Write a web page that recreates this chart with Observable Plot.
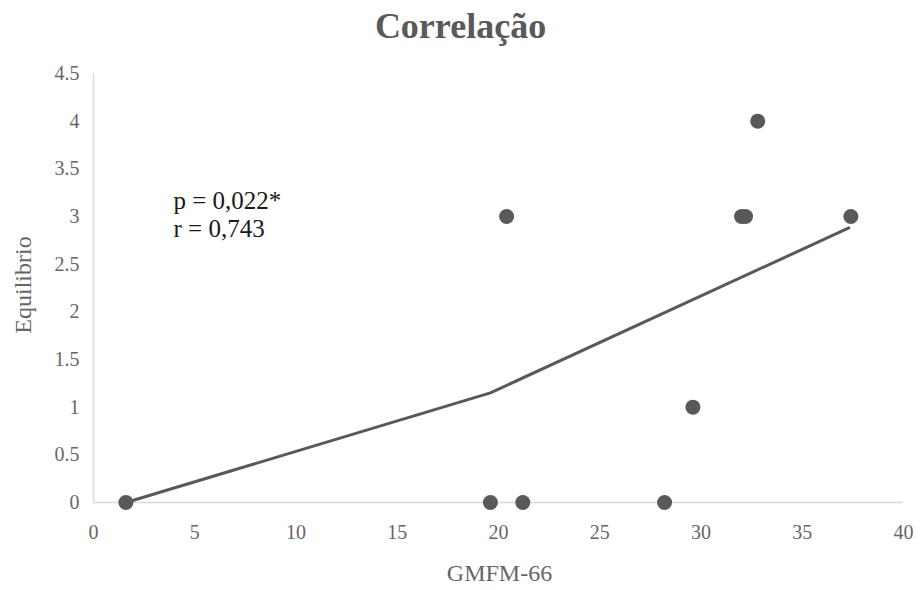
<!DOCTYPE html>
<html>
<head>
<meta charset="utf-8">
<script src="https://cdn.jsdelivr.net/npm/d3@7"></script>
<script src="https://cdn.jsdelivr.net/npm/@observablehq/plot@0.6"></script>
<style>
  html, body { margin: 0; padding: 0; background: #ffffff; }
  #chart { width: 920px; height: 590px; }
</style>
</head>
<body>
<div id="chart"></div>
<script>
// Data
const gmfm = [1.6, 19.6, 21.2, 28.2, 29.6, 20.4, 32.0, 32.2, 32.8, 37.4];
const equilibrio = [0, 0, 0, 0, 1, 3, 3, 3, 4, 3];
const trendX = [1.6, 19.6, 37.3];
const trendY = [0, 1.15, 2.88];
const xTicks = [0, 5, 10, 15, 20, 25, 30, 35, 40];
const yTicks = [0, 0.5, 1, 1.5, 2, 2.5, 3, 3.5, 4, 4.5];
const titleText = "Correlação";
const xLabel = "GMFM-66";
const yLabel = "Equilibrio";
const annotation = "p = 0,022*\nr = 0,743";

const points = gmfm.map((x, i) => ({x, y: equilibrio[i]}));
const trend = trendX.map((x, i) => ({x, y: trendY[i]}));

const grey = "#595959";
const tickGrey = "#666666";

const chart = Plot.plot({
  width: 920,
  height: 590,
  marginTop: 73,
  marginBottom: 88,
  marginLeft: 93,
  marginRight: 17,
  style: {fontFamily: "'Liberation Serif', 'Times New Roman', serif", background: "#ffffff"},
  x: {domain: [0, 40]},
  y: {domain: [0, 4.5]},
  marks: [
    Plot.ruleY([0], {stroke: "#d9d9d9", strokeWidth: 1.5}),
    Plot.ruleX([0], {stroke: "#d9d9d9", strokeWidth: 1.5}),
    Plot.axisX({ticks: xTicks, tickSize: 0, tickPadding: 22, fontSize: 20, color: tickGrey, label: null, tickFormat: d => `${d}`}),
    Plot.axisY({ticks: yTicks, tickSize: 0, tickPadding: 14, fontSize: 20, color: tickGrey, label: null, tickFormat: d => `${d}`}),
    Plot.line(trend, {x: "x", y: "y", stroke: grey, strokeWidth: 3}),
    Plot.dot(points, {x: "x", y: "y", r: 7.5, fill: grey, stroke: "none"}),
    Plot.text([titleText], {frameAnchor: "top", dx: -38, dy: -36, lineAnchor: "bottom", fontSize: 36, fontWeight: "bold", fill: grey}),
    Plot.text([xLabel], {frameAnchor: "bottom", dx: 1, dy: 78, lineAnchor: "bottom", fontSize: 24, fill: tickGrey}),
    Plot.text([yLabel], {frameAnchor: "left", dx: -63, dy: -3, rotate: -90, textAnchor: "middle", lineAnchor: "bottom", fontSize: 24, fill: tickGrey}),
    Plot.text([annotation], {frameAnchor: "top-left", dx: 80, dy: 116, lineAnchor: "top", textAnchor: "start", lineHeight: 1.12, fontSize: 25, fill: "#1a1a1a"})
  ]
});
document.getElementById("chart").appendChild(chart);
</script>
</body>
</html>
